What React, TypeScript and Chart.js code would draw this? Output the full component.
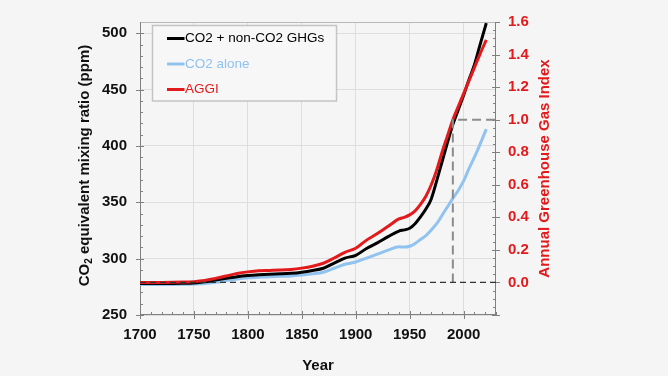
import React, { useEffect, useRef } from "react";
import Chart from "chart.js/auto";

// ---- data ----
const years = [1700, 1720, 1740, 1750, 1760, 1770, 1780, 1790, 1800, 1810, 1820, 1830, 1840, 1850, 1860, 1870, 1880, 1890, 1900, 1910, 1920, 1930, 1940, 1945, 1950, 1955, 1960, 1965, 1970, 1975, 1980, 1985, 1990, 1995, 2000, 2005, 2010, 2015, 2021];
const co2eq = [278, 278, 278.2, 278.5, 279.5, 281, 282.5, 284, 285, 285.7, 286.2, 286.5, 287, 288, 289.5, 291.5, 296, 300.5, 303, 309, 314, 319.5, 324.5, 325.5, 327, 331, 337, 344, 353, 369, 386, 403, 419, 432, 445, 459, 472, 489, 509];
const co2 = [277, 277, 277.2, 277.5, 278, 279, 280.5, 282, 283, 283.5, 284, 284.3, 284.7, 285.5, 286.5, 288, 291.5, 295, 297, 300.5, 304, 307.5, 310.5, 310.3, 311, 313.5, 317, 320.5, 325.5, 331, 338.5, 346, 353.5, 360.5, 369, 380, 390, 401, 415];
const aggi = [0, 0, 0.002, 0.005, 0.012, 0.025, 0.04, 0.055, 0.065, 0.072, 0.074, 0.076, 0.08, 0.088, 0.1, 0.118, 0.15, 0.185, 0.21, 0.26, 0.3, 0.345, 0.39, 0.4, 0.415, 0.44, 0.48, 0.53, 0.6, 0.69, 0.8, 0.9, 1.0, 1.08, 1.16, 1.24, 1.32, 1.4, 1.49];

const zeroLineX = [1700, 2030];
const zeroLineY = [0, 0];
const refLineX = [1990, 1990, 2030];
const refLineY = [0, 1, 1];

const seriesLabels = ["CO2 + non-CO2 GHGs", "CO2 alone", "AGGI"];
const xTitle = "Year";
const rightTitle = "Annual Greenhouse Gas Index";

const X_MIN = 1700, X_MAX = 2030;
const L_MIN = 250, L_MAX = 510;
const R_MIN = -0.2, R_MAX = 1.6;

const FONT = "'Liberation Sans', Arial, sans-serif";
const BLACK = "#000000";
const BLUE = "#90c3ef";
const RED = "#e31a1c";
const GRAY = "#808080";

const pts = (xs: number[], ys: number[]) => xs.map((x, i) => ({ x, y: ys[i] }));

const decorPlugin = {
  id: "decor",
  beforeDraw(chart: any) {
    const ctx = chart.ctx;
    ctx.save();
    ctx.fillStyle = "#f5f5f5";
    ctx.fillRect(0, 0, chart.width, chart.height);
    ctx.restore();
  },
  beforeDatasetsDraw(chart: any) {
    const { ctx, chartArea, scales } = chart;
    const { left, right, top, bottom } = chartArea;
    ctx.save();
    ctx.strokeStyle = GRAY;
    ctx.lineWidth = 1;
    const line = (x1: number, y1: number, x2: number, y2: number) => {
      ctx.beginPath();
      ctx.moveTo(x1, y1);
      ctx.lineTo(x2, y2);
      ctx.stroke();
    };
    for (let v = L_MIN; v <= L_MAX; v += 10) {
      const y = Math.round(scales.y.getPixelForValue(v)) + 0.5;
      if (v % 50 === 0) line(left - 4, y, left + 4, y);
      else line(left, y, left + 3, y);
    }
    for (let k = -4; k <= 32; k++) {
      const y = Math.round(scales.y1.getPixelForValue(k * 0.05)) + 0.5;
      if (k % 4 === 0) line(right - 4, y, right + 4, y);
      else line(right - 3, y, right, y);
    }
    for (let yr = X_MIN; yr <= X_MAX; yr += 10) {
      const x = Math.round(scales.x.getPixelForValue(yr)) + 0.5;
      if (yr % 50 === 0) line(x, bottom + 4, x, bottom - 4);
      else line(x, bottom, x, bottom - 3);
    }
    ctx.strokeStyle = "#b8b8b8";
    line(left, top + 0.5, right, top + 0.5);
    ctx.strokeStyle = GRAY;
    line(left + 0.5, top, left + 0.5, bottom);
    line(right - 0.5, top, right - 0.5, bottom);
    line(left, bottom - 0.5, right, bottom - 0.5);
    ctx.restore();
  },
  afterDraw(chart: any) {
    const { ctx, chartArea } = chart;
    const cy = (chartArea.top + chartArea.bottom) / 2;
    ctx.save();
    ctx.translate(85, cy - 3);
    ctx.rotate(-Math.PI / 2);
    ctx.fillStyle = "#111";
    ctx.textBaseline = "middle";
    const big = `bold 15px ${FONT}`;
    const small = `bold 10px ${FONT}`;
    const p1 = "CO", p2 = "2", p3 = " equivalent mixing ratio (ppm)";
    ctx.font = big;
    const w1 = ctx.measureText(p1).width;
    const w3 = ctx.measureText(p3).width;
    ctx.font = small;
    const w2 = ctx.measureText(p2).width;
    const x0 = -(w1 + w2 + w3) / 2;
    ctx.font = big;
    ctx.textAlign = "left";
    ctx.fillText(p1, x0, 0);
    ctx.font = small;
    ctx.fillText(p2, x0 + w1, 4);
    ctx.font = big;
    ctx.fillText(p3, x0 + w1 + w2, 0);
    ctx.restore();

    ctx.save();
    ctx.translate(545, cy);
    ctx.rotate(-Math.PI / 2);
    ctx.fillStyle = RED;
    ctx.font = `bold 15px ${FONT}`;
    ctx.textAlign = "center";
    ctx.textBaseline = "middle";
    ctx.fillText(rightTitle, 0, 0);
    ctx.restore();

    const ds = chart.data.datasets.filter((d: any) => d.inLegend);
    const bx = 152.5, by = 25.5, bw = 184, bh = 75.5;
    ctx.save();
    ctx.fillStyle = "#f7f7f7";
    ctx.fillRect(bx, by, bw, bh);
    ctx.strokeStyle = "#c4c4c4";
    ctx.lineWidth = 1.5;
    ctx.strokeRect(bx, by, bw, bh);
    ctx.font = `13.5px ${FONT}`;
    ctx.textAlign = "left";
    ctx.textBaseline = "middle";
    ds.forEach((d: any, i: number) => {
      const y = 38.5 + i * 25.5;
      ctx.strokeStyle = d.borderColor;
      ctx.lineWidth = 3;
      ctx.beginPath();
      ctx.moveTo(167, y);
      ctx.lineTo(184.5, y);
      ctx.stroke();
      ctx.fillStyle = d.borderColor;
      ctx.fillText(d.label, 185, y);
    });
    ctx.restore();
  },
};

export default function App() {
  const ref = useRef<HTMLCanvasElement | null>(null);
  useEffect(() => {
    if (!ref.current) return;
    const tickFont = { family: FONT, size: 15, weight: "bold" as const };
    const chart = new Chart(ref.current, {
      type: "line",
      data: {
        datasets: [
          {
            label: seriesLabels[0], inLegend: true, data: pts(years, co2eq), yAxisID: "y",
            borderColor: BLACK, borderWidth: 3, pointRadius: 0, cubicInterpolationMode: "monotone", order: 2,
          } as any,
          {
            label: seriesLabels[1], inLegend: true, data: pts(years, co2), yAxisID: "y",
            borderColor: BLUE, borderWidth: 3, pointRadius: 0, cubicInterpolationMode: "monotone", order: 3,
          } as any,
          {
            label: seriesLabels[2], inLegend: true, data: pts(years, aggi), yAxisID: "y1",
            borderColor: RED, borderWidth: 3, pointRadius: 0, cubicInterpolationMode: "monotone", order: 1,
          } as any,
          {
            label: "AGGI = 0", data: pts(zeroLineX, zeroLineY), yAxisID: "y1",
            borderColor: "#333333", borderWidth: 1.3, borderDash: [6, 4], pointRadius: 0, order: 0,
          } as any,
          {
            label: "1990 = 1", data: pts(refLineX, refLineY), yAxisID: "y1",
            borderColor: "#8c8c8c", borderWidth: 2, borderDash: [9, 5], pointRadius: 0, order: 0,
          } as any,
        ],
      },
      options: {
        animation: false,
        responsive: false,
        devicePixelRatio: 1,
        layout: { padding: { top: 16, left: 0, right: 0, bottom: 0 } },
        plugins: { legend: { display: false }, tooltip: { enabled: false } },
        scales: {
          x: {
            type: "linear", min: X_MIN, max: X_MAX,
            afterFit: (s: any) => { s.height = 61; },
            ticks: {
              stepSize: 50, includeBounds: false, autoSkip: false, maxRotation: 0,
              font: tickFont, color: "#111", padding: 11,
              callback: (v: any) => String(v),
            },
            grid: { color: "#dedede", drawTicks: false },
            border: { display: false },
            title: { display: true, text: xTitle, font: tickFont, color: "#111", padding: { top: 0, bottom: 1 } },
          },
          y: {
            type: "linear", position: "left", min: L_MIN, max: L_MAX,
            afterFit: (s: any) => { s.width = 140; },
            ticks: { stepSize: 50, includeBounds: false, font: tickFont, color: "#111", padding: 13 },
            grid: { color: "#dedede", drawTicks: false },
            border: { display: false },
          },
          y1: {
            type: "linear", position: "right", min: R_MIN, max: R_MAX,
            afterFit: (s: any) => { s.width = 172; },
            ticks: {
              stepSize: 0.2, includeBounds: false, font: tickFont, color: RED, padding: 12,
              callback: (v: any) => (Number(v) < -0.01 ? "" : Number(v).toFixed(1)),
            },
            grid: { display: false, drawTicks: false },
            border: { display: false },
          },
        },
      } as any,
      plugins: [decorPlugin],
    });
    return () => chart.destroy();
  }, []);
  return (
    <div style={{ position: "fixed", left: 0, top: 0, width: 668, height: 376, background: "#f5f5f5" }}>
      <canvas ref={ref} width={668} height={376} style={{ display: "block" }} />
    </div>
  );
}
